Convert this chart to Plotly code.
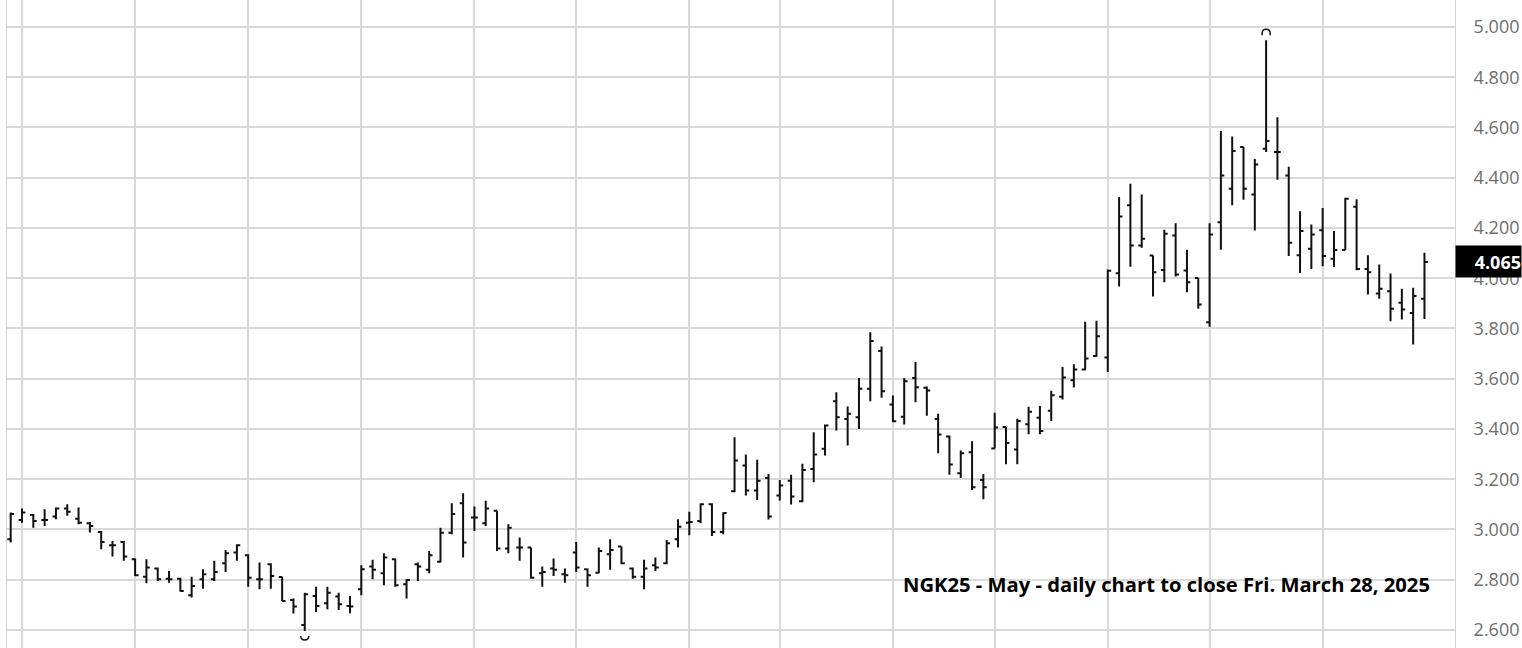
import plotly.graph_objects as go
import pandas as pd

# ---- data (NGK25 daily, Sep 27 2024 - Mar 28 2025) ----
holidays = ["2024-11-28", "2024-12-25", "2025-01-01", "2025-01-20", "2025-02-17"]
dates = [d.strftime("%Y-%m-%d") for d in pd.bdate_range("2024-09-27", "2025-03-28")
         if d.strftime("%Y-%m-%d") not in holidays]

opens = [2.961, 3.038, 3.057, 3.038, 3.051, 3.083, 3.043, 3.025, 2.990, 2.937,
         2.950, 2.881, 2.812, 2.844, 2.804, 2.804, 2.738, 2.802, 2.802, 2.865,
         2.908, 2.897, 2.802, 2.861, 2.811, 2.719, 2.620, 2.735, 2.706, 2.733,
         2.695, 2.762, 2.852, 2.826, 2.881, 2.782, 2.861, 2.839, 2.871, 2.987,
         3.104, 3.047, 3.025, 3.074, 2.924, 2.928, 2.928, 2.826, 2.844, 2.822,
         2.908, 2.841, 2.828, 2.901, 2.932, 2.844, 2.812, 2.857, 2.865, 2.961,
         3.027, 3.034, 3.100, 2.990, 3.152, 3.254, 3.155, 3.205, 3.135, 3.194,
         3.112, 3.241, 3.321, 3.510, 3.440, 3.447, 3.560, 3.710, 3.497, 3.449,
         3.603, 3.564, 3.440, 3.370, 3.224, 3.307, 3.197, 3.322, 3.408, 3.318,
         3.419, 3.445, 3.472, 3.528, 3.594, 3.637, 3.690, 3.684, 4.020, 4.290,
         4.130, 4.090, 4.033, 4.170, 4.031, 4.001, 3.825, 4.223, 4.356, 4.522,
         4.333, 4.515, 4.502, 4.409, 4.091, 4.117, 4.191, 4.077, 4.112, 4.284,
         4.037, 3.939, 3.948, 3.902, 3.862, 3.918]
highs = [3.067, 3.083, 3.061, 3.080, 3.087, 3.100, 3.087, 3.030, 2.994, 2.954,
         2.954, 2.884, 2.881, 2.848, 2.835, 2.808, 2.812, 2.841, 2.875, 2.918,
         2.941, 2.901, 2.868, 2.865, 2.812, 2.725, 2.748, 2.772, 2.772, 2.748,
         2.735, 2.857, 2.879, 2.905, 2.884, 2.802, 2.868, 2.914, 3.007, 3.104,
         3.144, 3.091, 3.114, 3.074, 3.021, 2.968, 2.928, 2.852, 2.884, 2.844,
         2.950, 2.844, 2.928, 2.961, 2.932, 2.848, 2.879, 2.888, 2.958, 3.041,
         3.070, 3.104, 3.104, 3.067, 3.367, 3.298, 3.277, 3.221, 3.197, 3.218,
         3.261, 3.387, 3.418, 3.546, 3.489, 3.603, 3.785, 3.728, 3.533, 3.603,
         3.666, 3.569, 3.460, 3.374, 3.314, 3.351, 3.221, 3.464, 3.408, 3.441,
         3.488, 3.491, 3.552, 3.647, 3.658, 3.827, 3.831, 4.035, 4.323, 4.376,
         4.333, 4.090, 4.193, 4.219, 4.113, 4.001, 4.219, 4.586, 4.564, 4.522,
         4.475, 4.947, 4.641, 4.444, 4.267, 4.214, 4.280, 4.188, 4.320, 4.314,
         4.091, 4.055, 4.019, 3.958, 3.962, 4.101]
lows = [2.948, 3.027, 3.007, 3.014, 3.041, 3.054, 3.021, 2.988, 2.921, 2.892,
        2.875, 2.815, 2.786, 2.795, 2.788, 2.753, 2.729, 2.764, 2.795, 2.831,
        2.875, 2.772, 2.762, 2.764, 2.715, 2.665, 2.596, 2.671, 2.682, 2.679,
        2.666, 2.738, 2.802, 2.778, 2.772, 2.725, 2.795, 2.826, 2.868, 2.981,
        2.888, 2.994, 3.014, 2.914, 2.905, 2.875, 2.804, 2.772, 2.815, 2.788,
        2.831, 2.772, 2.826, 2.839, 2.861, 2.804, 2.762, 2.835, 2.861, 2.928,
        2.977, 3.025, 2.974, 2.981, 3.148, 3.135, 3.117, 3.040, 3.115, 3.099,
        3.108, 3.188, 3.294, 3.394, 3.334, 3.400, 3.510, 3.524, 3.427, 3.418,
        3.506, 3.453, 3.303, 3.218, 3.205, 3.157, 3.120, 3.322, 3.259, 3.259,
        3.379, 3.379, 3.432, 3.517, 3.565, 3.634, 3.687, 3.627, 3.967, 4.046,
        4.121, 3.927, 3.984, 4.007, 3.944, 3.878, 3.807, 4.113, 4.290, 4.312,
        4.190, 4.502, 4.392, 4.088, 4.021, 4.037, 4.048, 4.045, 4.112, 4.032,
        3.935, 3.918, 3.829, 3.836, 3.736, 3.838]
closes = [3.061, 3.067, 3.034, 3.038, 3.083, 3.070, 3.027, 3.014, 2.950, 2.937,
          2.892, 2.818, 2.848, 2.802, 2.802, 2.755, 2.775, 2.822, 2.831, 2.905,
          2.937, 2.808, 2.802, 2.815, 2.715, 2.693, 2.742, 2.695, 2.748, 2.702,
          2.693, 2.841, 2.839, 2.888, 2.778, 2.799, 2.852, 2.897, 2.987, 3.061,
          2.948, 3.047, 3.083, 2.924, 3.007, 2.928, 2.808, 2.831, 2.839, 2.818,
          2.848, 2.818, 2.914, 2.918, 2.865, 2.812, 2.844, 2.848, 2.945, 3.011,
          3.030, 3.100, 2.990, 3.065, 3.274, 3.155, 3.194, 3.051, 3.175, 3.131,
          3.237, 3.298, 3.414, 3.447, 3.460, 3.560, 3.750, 3.550, 3.431, 3.590,
          3.566, 3.553, 3.378, 3.258, 3.303, 3.168, 3.168, 3.406, 3.344, 3.432,
          3.468, 3.392, 3.534, 3.605, 3.637, 3.680, 3.769, 4.030, 4.246, 4.130,
          4.157, 4.024, 4.177, 4.015, 3.984, 3.895, 4.174, 4.409, 4.506, 4.356,
          4.453, 4.546, 4.502, 4.141, 4.188, 4.174, 4.088, 4.112, 4.316, 4.037,
          4.024, 3.958, 3.878, 3.875, 3.929, 4.065]

grid_dates = ["2024-09-30", "2024-10-14", "2024-10-28", "2024-11-11", "2024-11-25",
              "2024-12-09", "2024-12-23", "2025-01-06", "2025-01-21", "2025-02-03",
              "2025-02-18", "2025-03-03", "2025-03-17"]
y_ticks = [2.6, 2.8, 3.0, 3.2, 3.4, 3.6, 3.8, 4.0, 4.2, 4.4, 4.6, 4.8, 5.0]
title_text = "NGK25 - May - daily chart to close Fri. March 28, 2025"

# ---- figure ----
xi = list(range(len(dates)))
grid_idx = [dates.index(d) for d in grid_dates]
bar_line = dict(color="#111111", width=2)

fig = go.Figure(go.Ohlc(
    x=xi, open=opens, high=highs, low=lows, close=closes,
    increasing=dict(line=bar_line), decreasing=dict(line=bar_line),
    tickwidth=0.3, text=dates, hoverinfo="text+y",
))

hi_i = max(range(len(highs)), key=lambda i: highs[i])
lo_i = min(range(len(lows)), key=lambda i: lows[i])
arc = dict(type="path", xref="x", yref="y", xsizemode="pixel", ysizemode="pixel",
           line=dict(color="#111111", width=1.5))
fig.add_shape(**arc, xanchor=hi_i, yanchor=highs[hi_i],
              path="M -4,5 L -4,7 C -4,12.3 4,12.3 4,7 L 4,5")
fig.add_shape(**arc, xanchor=lo_i, yanchor=lows[lo_i],
              path="M -4,-5 C -4,-10.3 4,-10.3 4,-5")

fig.add_annotation(xref="paper", yref="y", x=1, y=closes[-1], xanchor="left",
                   yanchor="middle", text=f"<b>{closes[-1]:.3f}</b>", showarrow=False,
                   bgcolor="#000000", width=65, height=31, borderpad=0, align="right",
                   font=dict(family="Open Sans", size=18, color="#ffffff"))
fig.add_annotation(xref="paper", yref="paper", x=0.984, y=0.0995, xanchor="right",
                   yanchor="middle", text=f"<b>{title_text}</b>", showarrow=False,
                   font=dict(family="Open Sans", size=20.2, color="#000000"))

fig.update_layout(
    width=1522, height=648,
    margin=dict(l=7, r=67, t=0, b=0),
    paper_bgcolor="#ffffff", plot_bgcolor="#ffffff",
    showlegend=False,
    xaxis=dict(range=[-0.327, 127.70], tickvals=grid_idx, showticklabels=False,
               showgrid=True, gridcolor="#d9d9d9", gridwidth=2, zeroline=False,
               ticks="", rangeslider=dict(visible=False), fixedrange=True),
    yaxis=dict(side="right", range=[2.528, 5.1075], tickvals=y_ticks, tickformat=".3f",
               showgrid=True, gridcolor="#d9d9d9", gridwidth=2, zeroline=False,
               showline=True, linecolor="#d4d4d4", linewidth=1, mirror=True,
               ticks="", ticklabelstandoff=14, fixedrange=True,
               tickfont=dict(family="Open Sans", size=18, color="#6e6e6e")),
)

fig.write_html("out.html", config={"displayModeBar": False},
               post_script="document.body.style.margin='0';")
